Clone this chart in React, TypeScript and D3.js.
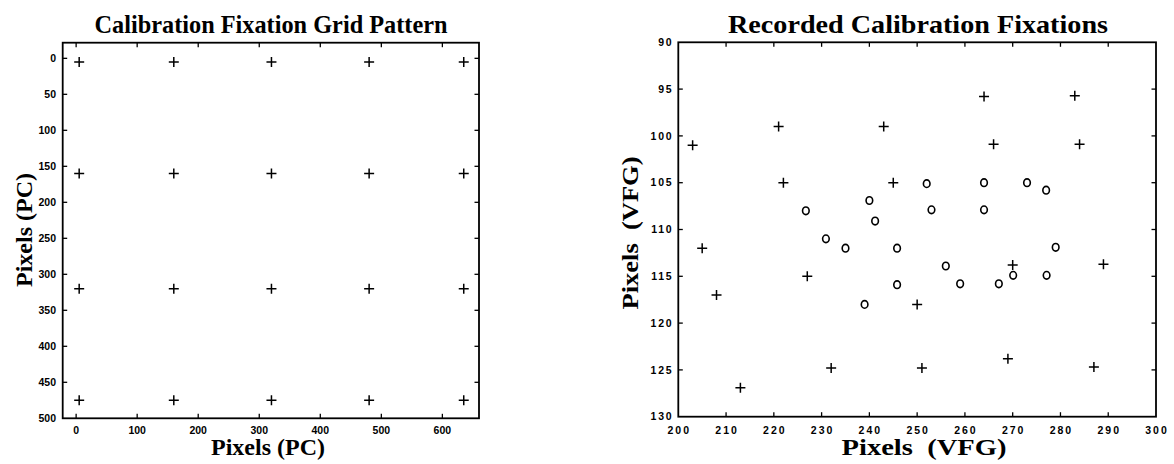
import React from "react";
import * as d3 from "d3";

// ---- Data ----
const gridX = [5, 160, 320, 480, 635];
const gridY = [5, 160, 320, 475];
const leftXTicks = [0, 100, 200, 300, 400, 500, 600];
const leftYTicks = [0, 50, 100, 150, 200, 250, 300, 350, 400, 450, 500];

// Recorded calibration targets (plus markers)
const targetX = [203, 221, 243, 222, 245, 205, 227, 208, 250, 232, 213, 264, 283, 266, 284, 289, 270, 269, 251, 287];
const targetY = [101, 99, 99, 105, 105, 112, 115, 117, 118, 124.8, 126.9, 95.8, 95.7, 100.9, 100.9, 113.7, 113.8, 123.8, 124.8, 124.7];
// Recorded fixations (circle markers)
const fixX = [226.7, 240, 241.2, 230.9, 235, 245.8, 252, 264, 273, 277, 253, 264, 245.8, 239, 279, 256, 270.1, 277.1, 259, 267.1];
const fixY = [108, 106.9, 109.1, 111, 112, 112, 105.1, 105, 105, 105.8, 107.9, 107.9, 115.9, 118, 111.9, 113.9, 114.9, 114.9, 115.8, 115.8];
const rightXTicks = [200, 210, 220, 230, 240, 250, 260, 270, 280, 290, 300];
const rightYTicks = [90, 95, 100, 105, 110, 115, 120, 125, 130];

const W = 1174;
const H = 464;
const serif = "'Liberation Serif', 'Times New Roman', serif";
const sans = "'Liberation Sans', Arial, sans-serif";

const plusPath = "M-5,0H5M0,-5V5";

export default function App() {
  // Left panel scales
  const lx = d3.scaleLinear().domain([-22, 660]).range([62.7, 479]);
  const ly = d3.scaleLinear().domain([-21.7, 500]).range([42.7, 418.3]);
  // Right panel scales
  const rx = d3.scaleLinear().domain([200, 300]).range([678.3, 1156]);
  const ry = d3.scaleLinear().domain([90, 130]).range([42.3, 416.7]);

  const tl = 4.5;

  const leftPts: [number, number][] = [];
  gridY.forEach((gy) => gridX.forEach((gx) => leftPts.push([gx, gy])));

  const L0 = lx.range()[0], L1 = lx.range()[1];
  const T0 = ly.range()[0], T1 = ly.range()[1];
  const R0 = rx.range()[0], R1 = rx.range()[1];
  const U0 = ry.range()[0], U1 = ry.range()[1];

  return (
    <svg width={W} height={H} style={{ position: "absolute", left: 0, top: 0, background: "#fff" }}>
      <rect x={0} y={0} width={W} height={H} fill="#fff" />
      {/* ===== Left panel ===== */}
      <text x={271} y={33} textAnchor="middle" fontFamily={serif} fontWeight="bold" fontSize={24.3}>
        Calibration Fixation Grid Pattern
      </text>
      <rect x={L0} y={T0} width={L1 - L0} height={T1 - T0} fill="none" stroke="#000" strokeWidth={1.8} />
      {leftXTicks.map((t) => (
        <g key={"lxt" + t}>
          <line x1={lx(t)} x2={lx(t)} y1={T1} y2={T1 - tl} stroke="#000" strokeWidth={1.3} />
          <line x1={lx(t)} x2={lx(t)} y1={T0} y2={T0 + tl} stroke="#000" strokeWidth={1.3} />
          <text x={lx(t)} y={434} textAnchor="middle" fontFamily={sans} fontWeight="bold" fontSize={10.5}>
            {t}
          </text>
        </g>
      ))}
      {leftYTicks.map((t) => (
        <g key={"lyt" + t}>
          {t < 500 && <line x1={L0} x2={L0 + tl} y1={ly(t)} y2={ly(t)} stroke="#000" strokeWidth={1.3} />}
          {t < 500 && <line x1={L1} x2={L1 - tl} y1={ly(t)} y2={ly(t)} stroke="#000" strokeWidth={1.3} />}
          <text x={56} y={ly(t) + 3.7} textAnchor="end" fontFamily={sans} fontWeight="bold" fontSize={10.5}>
            {t}
          </text>
        </g>
      ))}
      {leftPts.map(([x, y], i) => (
        <path key={"lp" + i} d={plusPath} transform={`translate(${lx(x)},${ly(y)})`} stroke="#000" strokeWidth={1.5} fill="none" />
      ))}
      <text x={268} y={455} textAnchor="middle" fontFamily={serif} fontWeight="bold" fontSize={24}>
        Pixels (PC)
      </text>
      <text transform="translate(31.5,230) rotate(-90)" textAnchor="middle" fontFamily={serif} fontWeight="bold" fontSize={24}>
        Pixels (PC)
      </text>

      {/* ===== Right panel ===== */}
      <text x={918} y={33} textAnchor="middle" fontFamily={serif} fontWeight="bold" fontSize={24.3} textLength={380} lengthAdjust="spacingAndGlyphs">
        Recorded Calibration Fixations
      </text>
      <rect x={R0} y={U0} width={R1 - R0} height={U1 - U0} fill="none" stroke="#000" strokeWidth={1.8} />
      {rightXTicks.map((t) => (
        <g key={"rxt" + t}>
          {t > 200 && t < 300 && <line x1={rx(t)} x2={rx(t)} y1={U1} y2={U1 - tl} stroke="#000" strokeWidth={1.3} />}
          {t > 200 && t < 300 && <line x1={rx(t)} x2={rx(t)} y1={U0} y2={U0 + tl} stroke="#000" strokeWidth={1.3} />}
          <text x={rx(t) + 1} y={433.5} textAnchor="middle" fontFamily={sans} fontWeight="bold" fontSize={10.5} letterSpacing={2}>
            {t}
          </text>
        </g>
      ))}
      {rightYTicks.map((t) => (
        <g key={"ryt" + t}>
          {t > 90 && t < 130 && <line x1={R0} x2={R0 + tl} y1={ry(t)} y2={ry(t)} stroke="#000" strokeWidth={1.3} />}
          {t > 90 && t < 130 && <line x1={R1} x2={R1 - tl} y1={ry(t)} y2={ry(t)} stroke="#000" strokeWidth={1.3} />}
          <text x={673.5} y={ry(t) + 3.7} textAnchor="end" fontFamily={sans} fontWeight="bold" fontSize={10.5} letterSpacing={1.8}>
            {t}
          </text>
        </g>
      ))}
      {targetX.map((x, i) => (
        <path key={"tp" + i} d={plusPath} transform={`translate(${rx(x)},${ry(targetY[i])})`} stroke="#000" strokeWidth={1.5} fill="none" />
      ))}
      {fixX.map((x, i) => (
        <ellipse key={"fp" + i} cx={rx(x)} cy={ry(fixY[i])} rx={3.3} ry={3.8} stroke="#000" strokeWidth={1.6} fill="none" />
      ))}
      <text x={924} y={455} textAnchor="middle" fontFamily={serif} fontWeight="bold" fontSize={23} textLength={165} lengthAdjust="spacingAndGlyphs" style={{ whiteSpace: "pre" }}>
        {"Pixels  (VFG)"}
      </text>
      <text transform="translate(637.5,233) rotate(-90)" textAnchor="middle" fontFamily={serif} fontWeight="bold" fontSize={24} textLength={153} lengthAdjust="spacingAndGlyphs" style={{ whiteSpace: "pre" }}>
        {"Pixels  (VFG)"}
      </text>
    </svg>
  );
}
